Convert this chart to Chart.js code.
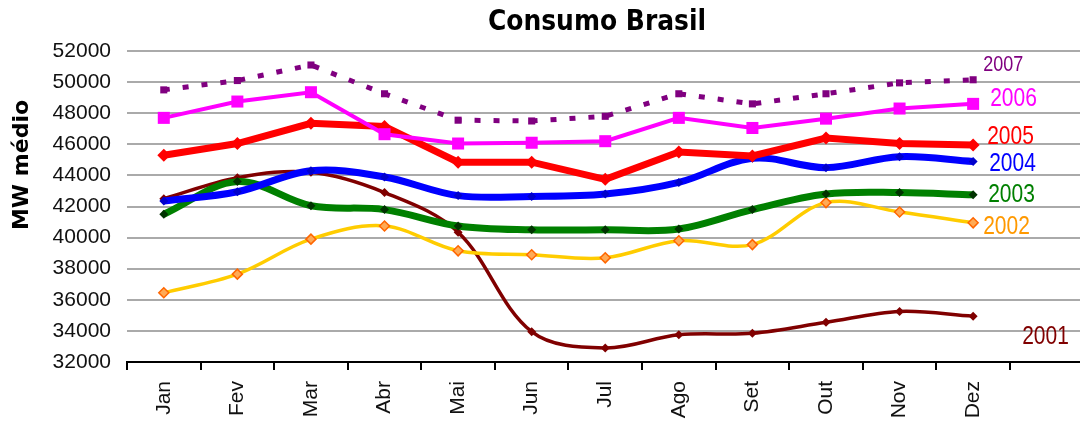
<!DOCTYPE html>
<html>
<head>
<meta charset="utf-8">
<script src="https://cdn.jsdelivr.net/npm/chart.js@4.4.0/dist/chart.umd.min.js"></script>
<style>
  html, body { margin: 0; padding: 0; background: #fff; overflow: hidden; width: 1080px; height: 423px; }
  #c { position: absolute; left: 0; top: 0; }
</style>
</head>
<body>
<canvas id="c" width="1092" height="423"></canvas>
<script>
// ---- data ----
const chartTitle = 'Consumo Brasil';
const yAxisTitle = 'MW médio';
const months = ['Jan', 'Fev', 'Mar', 'Abr', 'Mai', 'Jun', 'Jul', 'Ago', 'Set', 'Out', 'Nov', 'Dez', ''];
const yMin = 32000, yMax = 52000, yStep = 2000;

const seriesNames = ['2007', '2006', '2005', '2004', '2003', '2002', '2001'];
const v2007 = [49500, 50100, 51100, 49250, 47550, 47500, 47800, 49250, 48600, 49250, 49950, 50150];
const v2006 = [47700, 48750, 49350, 46650, 46050, 46100, 46200, 47700, 47050, 47650, 48300, 48600];
const v2005 = [45300, 46050, 47350, 47150, 44850, 44850, 43750, 45500, 45250, 46400, 46050, 45950];
const v2004 = [42350, 42950, 44300, 43900, 42700, 42650, 42800, 43550, 45100, 44500, 45200, 44900];
const v2003 = [41500, 43600, 42050, 41800, 40750, 40500, 40500, 40550, 41800, 42800, 42900, 42750];
const v2002 = [36450, 37650, 39900, 40750, 39150, 38900, 38700, 39800, 39550, 42250, 41650, 40950];
const v2001 = [42500, 43850, 44200, 42900, 40350, 33950, 32900, 33750, 33850, 34550, 35250, 34950];

// ---- styles ----
const styles = [
  { color: '#800080', width: 5, dash: [6, 13], pt: 'rect', r: 5, fill: '#800080', pBorder: '#800080', pbw: 0, tension: 0 },
  { color: '#FF00FF', width: 4, dash: [], pt: 'rect', r: 8.5, fill: '#FF00FF', pBorder: '#FF00FF', pbw: 0, tension: 0 },
  { color: '#FF0000', width: 7, dash: [], pt: 'rectRot', r: 6.5, fill: '#FF0000', pBorder: '#FF0000', pbw: 0, tension: 0 },
  { color: '#0000FF', width: 7, dash: [], pt: 'rectRot', r: 4.5, fill: '#0000CC', pBorder: '#0000CC', pbw: 0, tension: 0.35 },
  { color: '#008000', width: 7, dash: [], pt: 'rectRot', r: 4.5, fill: '#003300', pBorder: '#003300', pbw: 0, tension: 0.35 },
  { color: '#FFCC00', width: 3.5, dash: [], pt: 'rectRot', r: 5, fill: '#FFAA55', pBorder: '#FF6600', pbw: 1.5, tension: 0.35 },
  { color: '#800000', width: 3.5, dash: [], pt: 'rectRot', r: 4.5, fill: '#800000', pBorder: '#800000', pbw: 0, tension: 0.35 }
];
const labelStyles = [
  { color: '#800080', size: 18, dx: 10, dy: -15 },
  { color: '#FF00FF', size: 21, dx: 17, dy: -5 },
  { color: '#FF0000', size: 21, dx: 14, dy: -8 },
  { color: '#0000FF', size: 21, dx: 16, dy: 2.5 },
  { color: '#008000', size: 21, dx: 15, dy: 0 },
  { color: '#FF9900', size: 21, dx: 10, dy: 4 },
  { color: '#800000', size: 21, dx: 49, dy: 21 }
];

const values = [v2007, v2006, v2005, v2004, v2003, v2002, v2001];

const datasets = values.map((vals, i) => {
  const s = styles[i];
  return {
    label: seriesNames[i],
    data: vals,
    borderColor: s.color,
    borderWidth: s.width,
    borderDash: s.dash,
    tension: s.tension,
    pointStyle: s.pt,
    pointRadius: s.r,
    pointHoverRadius: s.r,
    pointBackgroundColor: s.fill,
    pointBorderColor: s.pBorder,
    pointBorderWidth: s.pbw,
    fill: false,
    clip: false
  };
});

function stretchedText(ctx, text, x, y, sy) {
  ctx.save();
  ctx.translate(x, y);
  ctx.scale(1, sy);
  ctx.fillText(text, 0, 0);
  ctx.restore();
}

const textPlugin = {
  id: 'texts',
  afterDraw(chart) {
    const ctx = chart.ctx;
    const xs = chart.scales.x, ys = chart.scales.y;
    ctx.save();
    // title
    ctx.fillStyle = '#000';
    ctx.textAlign = 'center';
    ctx.textBaseline = 'middle';
    ctx.font = 'bold 25px "DejaVu Sans"';
    stretchedText(ctx, chartTitle, 597, 23, 1.12);
    // y title
    ctx.save();
    ctx.translate(22, 165);
    ctx.rotate(-Math.PI / 2);
    ctx.font = 'bold 22px "DejaVu Sans"';
    ctx.fillText(yAxisTitle, 0, 0);
    ctx.restore();
    // series labels
    ctx.textAlign = 'left';
    values.forEach((vals, i) => {
      const ls = labelStyles[i];
      const last = vals.length - 1;
      const x = xs.getPixelForValue(last) + ls.dx;
      const y = ys.getPixelForValue(vals[last]) + ls.dy;
      ctx.font = ls.size + 'px "Liberation Sans"';
      ctx.fillStyle = ls.color;
      stretchedText(ctx, seriesNames[i], x, y, 1.2);
    });
    ctx.restore();
  }
};

new Chart(document.getElementById('c'), {
  type: 'line',
  data: { labels: months, datasets },
  options: {
    responsive: false,
    animation: false,
    devicePixelRatio: 1,
    layout: { padding: { top: 51, left: 0, right: 2, bottom: 0 } },
    plugins: { legend: { display: false }, tooltip: { enabled: false }, title: { display: false } },
    scales: {
      x: {
        offset: true,
        grid: { display: true, drawOnChartArea: false, drawTicks: true, tickLength: 8, color: '#000', lineWidth: 2, offset: true },
        border: { display: true, color: '#000', width: 2 },
        ticks: {
          autoSkip: false, minRotation: 90, maxRotation: 90, padding: 11,
          color: '#111', font: { family: 'Liberation Sans', size: 21 }
        },
        afterFit(scale) { scale.height = 61; }
      },
      y: {
        min: yMin, max: yMax,
        ticks: {
          stepSize: yStep, padding: 16, color: '#111',
          font: { family: 'Liberation Sans', size: 21 },
          callback: (v) => String(v)
        },
        grid: { color: '#aaaaaa', lineWidth: 2, drawTicks: false },
        border: { display: false },
        afterFit(scale) { scale.width = 127; }
      }
    }
  },
  plugins: [textPlugin]
});
</script>
</body>
</html>
